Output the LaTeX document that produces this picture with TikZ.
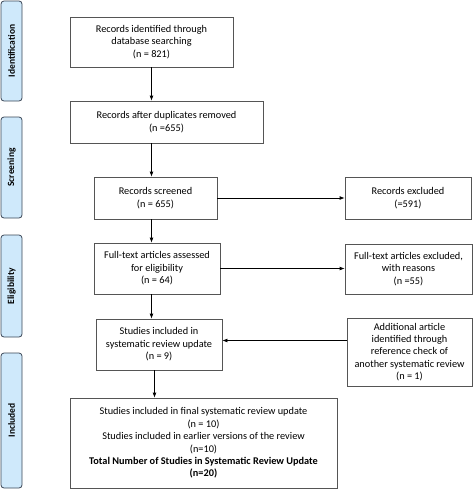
\documentclass[tikz,border=0pt]{standalone}
\usepackage{fontspec}
\setmainfont{Carlito}
\usetikzlibrary{arrows.meta}
\definecolor{phasefill}{HTML}{CFE9FB}
\definecolor{phaseline}{HTML}{3A4656}
\definecolor{boxline}{HTML}{555555}
\begin{document}
\begin{tikzpicture}[x=1pt,y=-1pt,
    font=\fontsize{10.3}{12.4}\selectfont,
    box/.style={draw=boxline,line width=0.8pt,align=center,inner sep=1pt},
    phase/.style={draw=phaseline,fill=phasefill,line width=0.8pt,rounded corners=3pt,
      rotate=90,minimum height=21pt,inner sep=0pt,font=\fontsize{9.5}{12}\selectfont\bfseries},
    flow/.style={-{Latex[length=5pt,width=4pt]},line width=0.8pt}]
  \useasboundingbox (0,0) rectangle (473,490);
  % phase bars
  \node[phase,minimum width=100pt] (pid) at (11.5,51) {Identification};
  \node[phase,minimum width=101pt] (psc) at (11.5,167.5) {Screening};
  \node[phase,minimum width=102pt] (pel) at (11.5,286) {Eligibility};
  \node[phase,minimum width=135pt] (pin) at (11.5,420.5) {Included};
  % boxes
  \node[box,minimum width=163pt,minimum height=50pt] (ident) at (151.5,42)
    {Records identified through\\database searching\\(n = 821)};
  \node[box,minimum width=193pt,minimum height=42pt] (dup) at (166.5,122)
    {Records after duplicates removed\\(n =655)};
  \node[box,minimum width=123pt,minimum height=42pt] (screen) at (155.5,198)
    {Records screened\\(n = 655)};
  \node[box,minimum width=126pt,minimum height=42pt] (excl) at (408,198)
    {Records excluded\\(=591)};
  \node[box,minimum width=126pt,minimum height=51pt] (full) at (157,268.5)
    {Full-text articles assessed\\for eligibility\\(n = 64)};
  \node[box,minimum width=127pt,minimum height=50pt] (fullexcl) at (408.5,269)
    {Full-text articles excluded,\\with reasons\\(n =55)};
  \node[box,minimum width=126pt,minimum height=51pt] (incl) at (159,344.5)
    {Studies included in\\systematic review update\\(n = 9)};
  \node[box,minimum width=125pt,minimum height=68pt] (addl) at (409.5,352)
    {Additional article\\identified through\\reference check of\\another systematic review\\(n = 1)};
  \node[box,minimum width=267pt,minimum height=90pt] (final) at (203.5,443)
    {Studies included in final systematic review update\\(n = 10)\\
     Studies included in earlier versions of the review\\(n=10)\\
     \textbf{Total Number of Studies in Systematic Review Update}\\\textbf{(n=20)}};
  % connectors
  \draw[flow] (ident.south) -- (ident.south |- dup.north);
  \draw[flow] (dup.south -| ident.south) -- (ident.south |- screen.north);
  \draw[flow] (screen.south -| ident.south) -- (ident.south |- full.north);
  \draw[flow] (full.south -| ident.south) -- (ident.south |- incl.north);
  \draw[flow] ([xshift=3pt]incl.south -| ident.south) -- ([xshift=3pt]ident.south |- final.north);
  \draw[flow] (screen.east) -- (excl.west);
  \draw[flow] (full.east) -- (full.east -| fullexcl.west);
  \draw[flow] ([yshift=4pt]addl.west |- incl.east) -- ([yshift=4pt]incl.east);
\end{tikzpicture}
\end{document}
